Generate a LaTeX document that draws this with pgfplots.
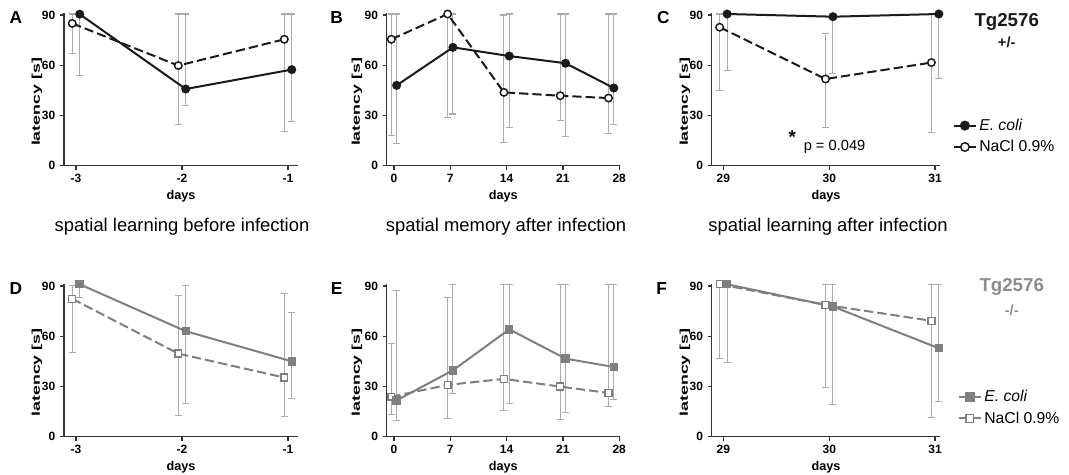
\documentclass[border=0pt]{standalone}
\usepackage{pgfplots}
\pgfplotsset{compat=1.18}
\usepackage{pgfplotstable}
\usepackage{graphicx}
\usepackage{fontspec}
\setmainfont{Liberation Sans}

\definecolor{ink}{HTML}{1A1A1A}
\definecolor{axc}{HTML}{333333}
\definecolor{wt}{HTML}{7F7F7F}
\definecolor{errc}{HTML}{ABABAB}

% columns: day, E. coli mean / low end / high end, NaCl mean / low end / high end
\pgfplotstableread{
day ec eclo echi na nalo nahi
-3 90.5 54.0 90.5 85.0 67.0 90.6
-2 45.8 35.9 90.6 59.8 24.7 90.6
-1 57.4 26.3 90.6 75.5 20.3 90.6
}\tabA
\pgfplotstableread{
day ec eclo echi na nalo nahi
0  48.0 13.3 90.6 75.5 17.9 90.6
7  70.7 30.9 90.6 90.6 28.7 90.6
14 65.5 22.9 90.6 43.8 13.7 90.0
21 61.2 17.3 90.6 41.8 26.9 90.6
27 46.4 24.7 90.6 40.4 19.3 90.6
}\tabB
\pgfplotstableread{
day ec eclo echi na nalo nahi
29 90.6 56.8 90.6 82.7 44.8 90.6
30 89.0 54.8 89.0 51.8 22.9 79.0
31 90.6 52.2 90.6 61.6 19.7 90.6
}\tabC
\pgfplotstableread{
day ec eclo echi na nalo nahi
-3 91.0 83.0 91.0 82.3 50.5 90.5
-2 63.0 19.7 90.4 49.6 12.7 84.3
-1 45.0 22.7 74.3 35.3 11.8 85.7
}\tabD
\pgfplotstableread{
day ec eclo echi na nalo nahi
0  21.7  9.4 87.3 23.9 13.3 55.8
7  39.6 25.9 91.0 30.9 10.6 83.0
14 64.1 19.9 91.0 34.5 15.5 91.0
21 46.6 14.3 91.0 29.9 10.0 91.0
27 41.6 22.3 91.0 26.1 17.9 91.0
}\tabE
\pgfplotstableread{
day ec eclo echi na nalo nahi
29 91.0 44.2 91.0 91.0 46.6 91.0
30 77.7 19.3 91.0 78.7 29.3 91.0
31 52.8 20.9 91.0 69.2 11.4 91.0
}\tabF

\pgfplotsset{
  panel/.style={
    scale only axis, height=114.3pt,
    axis lines*=left,
    axis line style={line width=1.1pt, axc},
    ymin=0, ymax=91,
    ytick={0,30,60,90}, yticklabels={0,30,60,90},
    tick style={line width=1pt, axc},
    tick align=outside, major tick length=3pt,
    tick label style={font=\bfseries\fontsize{9}{10}\selectfont},
    xlabel={days},
    xlabel style={font=\bfseries\fontsize{9.5}{11}\selectfont,
      at={(axis description cs:0.5,-0.2)}, anchor=center},
    clip=false,
    legend image code/.code={%
      \draw[mark repeat=2,mark phase=2,#1] plot coordinates {(0pt,0pt) (8pt,0pt) (16pt,0pt)};},
    legend style={draw=none, fill=none, inner sep=0pt, row sep=2pt,
      font=\fontsize{11.8}{13}\selectfont, anchor=west},
    legend cell align=left,
  },
  errs/.style={forget plot, only marks, mark=none,
    error bars/.cd, y dir=both, y explicit,
    error bar style={errc, line width=0.8pt},
    error mark options={rotate=90, errc, line width=0.8pt, mark size=2.6pt}},
  ecT/.style={forget plot, ink, line width=1.5pt, mark=*, mark size=2.6pt,
    mark options={fill=ink, solid}},
  naT/.style={forget plot, ink, line width=1.5pt, dash pattern=on 7pt off 3pt,
    mark=*, mark size=2.8pt, mark options={fill=white, solid, line width=1.1pt}},
  ecB/.style={forget plot, wt, line width=1.5pt, mark=square*, mark size=2.4pt,
    mark options={fill=wt, solid}},
  naB/.style={forget plot, wt, line width=1.5pt, dash pattern=on 7pt off 3pt,
    mark=square*, mark size=2.6pt, mark options={fill=white, solid, line width=1pt}},
}

% one panel: error bars first, then the two lines
\newcommand{\panel}[4]{% table, offset, E. coli style, NaCl style
  \addplot[errs] table[x expr=\thisrow{day}-#2, y=na,
    y error plus expr=\thisrow{nahi}-\thisrow{na},
    y error minus expr=\thisrow{na}-\thisrow{nalo}] {#1};
  \addplot[errs] table[x expr=\thisrow{day}+#2, y=ec,
    y error plus expr=\thisrow{echi}-\thisrow{ec},
    y error minus expr=\thisrow{ec}-\thisrow{eclo}] {#1};
  \addplot[#4] table[x expr=\thisrow{day}-#2, y=na] {#1};
  \addplot[#3] table[x expr=\thisrow{day}+#2, y=ec] {#1};
}

\begin{document}
\begin{tikzpicture}[x=0.75pt, y=0.75pt]
\useasboundingbox (0,0) rectangle (1069,474);

% ---- top row: Tg2576 +/-
\begin{axis}[panel, at={(48pt,231.2pt)}, anchor=south west, width=175.5pt,
    xmin=-3.113, xmax=-0.906, xtick={-3,-2,-1}, xticklabels={-3,-2,-1}]
  \panel{\tabA}{0.035}{ecT}{naT}
\end{axis}

\begin{axis}[panel, at={(290pt,231.2pt)}, anchor=south west, width=175pt,
    xmin=-0.91, xmax=28.1, xtick={0,7,14,21,28}, xticklabels={0,7,14,21,28}]
  \panel{\tabB}{0.33}{ecT}{naT}
\end{axis}

\begin{axis}[panel, at={(533.8pt,231.2pt)}, anchor=south west, width=171.5pt,
    xmin=28.89, xmax=31.05, xtick={29,30,31}, xticklabels={29,30,31},
    legend style={at={(axis description cs:1.055,0.193)}}]
  \panel{\tabC}{0.035}{ecT}{naT}
  \addlegendimage{ink, line width=1.5pt, mark=*, mark size=3pt, mark options={fill=ink}}
  \addlegendentry{\textit{E. coli}}
  \addlegendimage{ink, line width=1.5pt, mark=*, mark size=3.2pt, mark options={fill=white, line width=1.1pt}}
  \addlegendentry{NaCl 0.9\%}
  \node[font=\bfseries\fontsize{14}{16}\selectfont] at (axis cs:29.65,17.3) {*};
  \node[font=\fontsize{11}{13}\selectfont] at (axis cs:30.05,11.4) {p = 0.049};
\end{axis}

% ---- bottom row: Tg2576 -/-
\begin{axis}[panel, at={(48pt,28pt)}, anchor=south west, width=175.5pt,
    xmin=-3.113, xmax=-0.906, xtick={-3,-2,-1}, xticklabels={-3,-2,-1}]
  \panel{\tabD}{0.035}{ecB}{naB}
\end{axis}

\begin{axis}[panel, at={(290pt,28pt)}, anchor=south west, width=175pt,
    xmin=-0.91, xmax=28.1, xtick={0,7,14,21,28}, xticklabels={0,7,14,21,28}]
  \panel{\tabE}{0.33}{ecB}{naB}
\end{axis}

\begin{axis}[panel, at={(533.8pt,28pt)}, anchor=south west, width=171.5pt,
    xmin=28.89, xmax=31.05, xtick={29,30,31}, xticklabels={29,30,31},
    legend style={at={(axis description cs:1.077,0.19)}}]
  \panel{\tabF}{0.035}{ecB}{naB}
  \addlegendimage{wt, line width=1.5pt, mark=square*, mark size=2.7pt, mark options={fill=wt}}
  \addlegendentry{\textit{E. coli}}
  \addlegendimage{wt, line width=1.5pt, mark=square*, mark size=2.9pt, mark options={fill=white, line width=1pt}}
  \addlegendentry{NaCl 0.9\%}
\end{axis}

% ---- y axis titles (stretched along the text, as in the original)
\begin{scope}[every node/.style={rotate=90, inner sep=0pt,
    font=\bfseries\fontsize{8.5}{9}\selectfont}]
  \foreach \xx/\yy in {37/372, 357/372, 685/372, 37/101.5, 357/101.5, 685/101.5}
    \node at (\xx,\yy) {\resizebox{66pt}{\height}{latency [s]}};
\end{scope}

% ---- panel letters, subtitles, genotype labels
\begin{scope}[every node/.style={font=\bfseries\fontsize{13}{15}\selectfont}]
  \node at (16,456.3) {A};
  \node at (336.7,456.3) {B};
  \node at (663.3,456.3) {C};
  \node at (16,185.7) {D};
  \node at (336.7,185.7) {E};
  \node at (661.7,185.7) {F};
\end{scope}
\begin{scope}[every node/.style={font=\fontsize{13.8}{16}\selectfont}]
  \node at (182,247) {spatial learning before infection};
  \node at (506,247) {spatial memory after infection};
  \node at (828,247) {spatial learning after infection};
\end{scope}
\node[font=\bfseries\fontsize{14}{16}\selectfont, ink] at (1006.7,452.3) {Tg2576};
\node[font=\bfseries\fontsize{11}{13}\selectfont, ink] at (1006.7,431.3) {+/-};
\node[font=\bfseries\fontsize{14}{16}\selectfont, wt!90] at (1011.7,187.3) {Tg2576};
\node[font=\bfseries\fontsize{11}{13}\selectfont, wt!90] at (1011.7,164) {-/-};
\end{tikzpicture}
\end{document}
